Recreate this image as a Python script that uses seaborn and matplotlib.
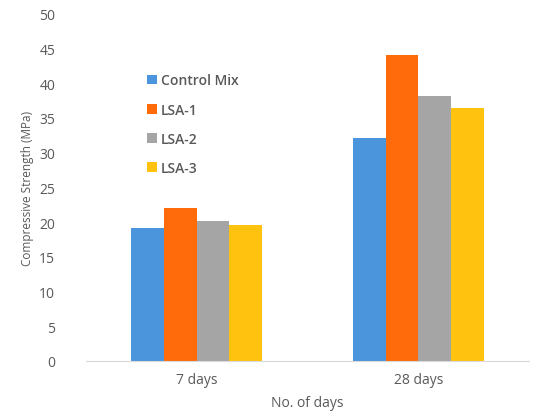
import pandas as pd
import matplotlib.pyplot as plt
import seaborn as sns

days = ['7 days', '28 days']
mixes = ['Control Mix', 'LSA-1', 'LSA-2', 'LSA-3']
control_mix = [19.2, 32.1]
lsa_1 = [22.0, 44.1]
lsa_2 = [20.1, 38.1]
lsa_3 = [19.6, 36.4]

colors = ['#4A95DC', '#FF6A0A', '#A5A5A5', '#FFC20E']
text_grey = '#595959'

rows = []
for mix, vals in zip(mixes, [control_mix, lsa_1, lsa_2, lsa_3]):
    for d, v in zip(days, vals):
        rows.append({'day': d, 'mix': mix, 'strength': v})
df = pd.DataFrame(rows)

sns.set_style('white')
plt.rcParams['font.family'] = ['Open Sans', 'DejaVu Sans']

fig = plt.figure(figsize=(5.46, 4.14), dpi=100)
ax = fig.add_axes([0.157, 0.126, 0.812, 0.838])

sns.barplot(data=df, x='day', y='strength', hue='mix', order=days, hue_order=mixes,
            palette=colors, width=0.59, gap=0, saturation=1, linewidth=0, ax=ax)

ax.set_ylim(0, 50)
ax.set_yticks(range(0, 51, 5))
ax.tick_params(axis='both', length=0, labelsize=10, labelcolor=text_grey)
ax.tick_params(axis='y', pad=22)
ax.tick_params(axis='x', pad=8)
for s in ['top', 'right', 'left']:
    ax.spines[s].set_visible(False)
ax.spines['bottom'].set_color('#D9D9D9')
ax.set_xlabel('No. of days', fontsize=10, color=text_grey, labelpad=6)
ax.set_ylabel('Compressive Strength (MPa)', fontsize=8.5, color=text_grey, labelpad=4)

leg = ax.legend(loc='upper left', bbox_to_anchor=(0.11, 0.865), frameon=False,
                handlelength=0.7, handleheight=0.7, handletextpad=0.3,
                labelspacing=1.1, fontsize=10)
for t in leg.get_texts():
    t.set_color(text_grey)
    t.set_fontweight('semibold')

plt.savefig('out.png', dpi=100)
